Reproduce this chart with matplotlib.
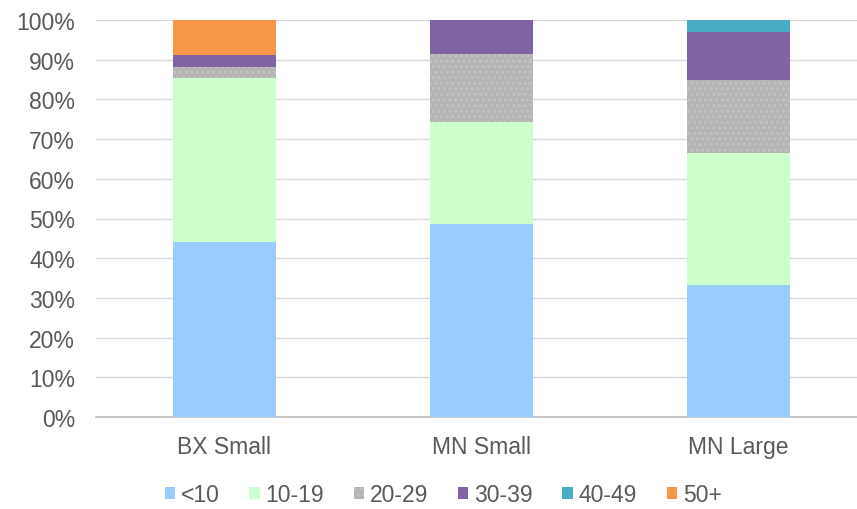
import matplotlib
matplotlib.use("Agg")
import matplotlib.pyplot as plt
from matplotlib.patches import Patch
import numpy as np

plt.rcParams['font.family'] = ['Liberation Sans', 'DejaVu Sans']
plt.rcParams['hatch.linewidth'] = 0.5

categories = ["BX Small", "MN Small", "MN Large"]
series_names = ["<10", "10-19", "20-29", "30-39", "40-49", "50+"]
# share of each size band per group (%)
lt10 = [44.1, 48.6, 33.3]
s10_19 = [41.2, 25.7, 33.3]
s20_29 = [2.9, 17.1, 18.2]
s30_39 = [2.9, 8.6, 12.1]
s40_49 = [0.0, 0.0, 3.0]
s50_plus = [8.8, 0.0, 0.0]
series = [lt10, s10_19, s20_29, s30_39, s40_49, s50_plus]
colors = ["#99CCFF", "#CCFFCC", "#B4B4B4", "#8064A2", "#4BACC6", "#F79646"]
yticks = [0, 10, 20, 30, 40, 50, 60, 70, 80, 90, 100]

W, H = 857, 510
fig = plt.figure(figsize=(W / 100, H / 100), dpi=100)
ax = fig.add_axes([96 / W, (H - 418) / H, (W - 96) / W, (418 - 21) / H])

x = np.arange(len(categories))
bottom = np.zeros(len(categories))
for name, vals, col in zip(series_names, series, colors):
    vals = np.array(vals)
    if name == "20-29":
        ax.bar(x, vals, 0.40, bottom=bottom, facecolor=col, edgecolor="#C2C2C2",
               hatch="ooo", linewidth=0, zorder=3)
    else:
        ax.bar(x, vals, 0.40, bottom=bottom, color=col, linewidth=0, zorder=3)
    bottom += vals

ax.set_xlim(-0.5, -0.5 + (W - 96) / 257)
ax.set_ylim(0, 100)
ax.set_yticks(yticks)
ax.set_yticklabels([f"{v}%" for v in yticks])
ax.set_xticks(x)
ax.set_xticklabels(categories)
ax.grid(axis="y", color="#D9D9D9", linewidth=1.0, zorder=0)
for s in ["top", "right", "left"]:
    ax.spines[s].set_visible(False)
ax.spines["bottom"].set_color("#BFBFBF")
ax.spines["bottom"].set_linewidth(1.2)
ax.tick_params(axis="both", length=0, labelsize=16.5, colors="#595959")
ax.tick_params(axis="y", pad=15)
ax.tick_params(axis="x", pad=13)

handles = [Patch(facecolor=c, edgecolor="#C2C2C2" if n == "20-29" else c,
                 hatch="ooo" if n == "20-29" else None, linewidth=0)
           for n, c in zip(series_names, colors)]
fig.legend(handles, series_names, loc="center", bbox_to_anchor=(443 / W, (H - 496) / H),
           ncol=6, frameon=False, fontsize=16.5, handlelength=0.45, handleheight=0.45,
           handletextpad=0.25, columnspacing=1.3, labelcolor="#595959")

fig.savefig("out.png", dpi=100)
